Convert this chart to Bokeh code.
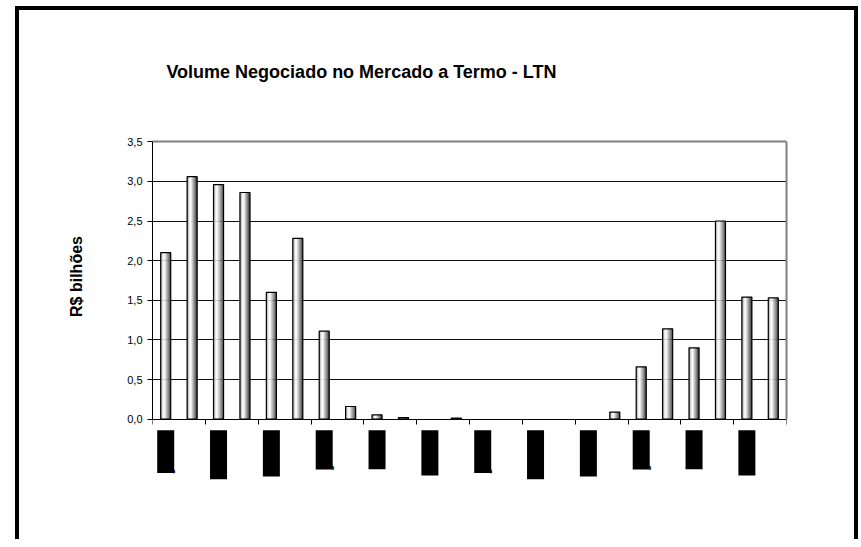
import numpy as np
from bokeh.plotting import figure
from bokeh.models import (Range1d, FixedTicker, CustomJSTickFormatter, LabelSet, Label,
                          ColumnDataSource, Grid, LinearAxis, CDSView, BooleanFilter)
from bokeh.embed import file_html
from bokeh.resources import INLINE

# ---- data ----
months = ["jan/02", "fev/02", "mar/02", "abr/02", "mai/02", "jun/02",
          "jul/02", "ago/02", "set/02", "out/02", "nov/02", "dez/02",
          "jan/03", "fev/03", "mar/03", "abr/03", "mai/03", "jun/03",
          "jul/03", "ago/03", "set/03", "out/03", "nov/03", "dez/03"]
volume = [2.10, 3.06, 2.96, 2.86, 1.60, 2.28, 1.11, 0.16, 0.055, 0.02, 0.0, 0.015,
          0.0, 0.0, 0.0, 0.0, 0.0, 0.09, 0.66, 1.14, 0.90, 2.50, 1.54, 1.53]
y_ticks = [0.0, 0.5, 1.0, 1.5, 2.0, 2.5, 3.0, 3.5]
title_text = "Volume Negociado no Mercado a Termo - LTN"
y_label = "R$ bilhões"

FONT = "Liberation Sans"
Y_MAX = 3.5

p = figure(width=835, height=529,
           x_range=Range1d(0, len(months)), y_range=Range1d(-0.9, 4.5),
           output_backend="svg", toolbar_location=None,
           min_border_left=133, min_border_right=68,
           min_border_top=52, min_border_bottom=49)
p.styles = {"margin-left": "12px", "margin-top": "2px",
            "transform": "translate(7px, 8px)",
            "outline": "4px solid black",
            "clip-path": "inset(-4px -4px 0px -4px)"}

p.background_fill_color = "white"
p.border_fill_color = "white"
p.outline_line_color = None

# bars drawn as vertical strips to imitate the cylinder shading
x = np.arange(len(months)) + 0.5
nonzero = BooleanFilter([v > 0 for v in volume])
src = ColumnDataSource(dict(x=x, top=volume))
bar_w = 0.38
shades = ['#9a9a9a', '#c8c8c8', '#eeeeee', '#ffffff', '#e4e4e4',
          '#c4c4c4', '#a4a4a4', '#848484', '#646464', '#404040']
n = len(shades)
sw = bar_w / n
for i, c in enumerate(shades):
    off = -bar_w / 2 + sw * (i + 0.5)
    s = ColumnDataSource(dict(x=x + off, top=volume))
    p.vbar(x="x", top="top", width=sw * 1.2, bottom=0, source=s,
           view=CDSView(filter=BooleanFilter([v > 0 for v in volume])),
           fill_color=c, line_color=None)
p.vbar(x="x", top="top", width=bar_w, bottom=0, source=src, view=CDSView(filter=nonzero),
       fill_color=None, line_color="black", line_width=1.2)

# grid
p.xgrid.visible = False
p.ygrid.ticker = FixedTicker(ticks=[t for t in y_ticks if 0 < t < Y_MAX])
p.ygrid.grid_line_color = "#111111"
p.ygrid.grid_line_width = 1
p.add_layout(Grid(dimension=1, ticker=FixedTicker(ticks=[Y_MAX]),
                  grid_line_color="#808080", grid_line_width=2))

# y axis
p.yaxis.bounds = (0, Y_MAX)
p.yaxis.ticker = FixedTicker(ticks=y_ticks)
p.yaxis.formatter = CustomJSTickFormatter(code="return tick.toFixed(1).replace('.', ',');")
p.yaxis.major_label_text_font = FONT
p.yaxis.major_label_text_font_size = "11px"
p.yaxis.major_label_text_color = "black"
p.yaxis.major_tick_in = 0
p.yaxis.major_tick_out = 5
p.yaxis.minor_tick_line_color = None
p.yaxis.axis_line_color = "black"
p.yaxis.major_tick_line_color = "black"
p.yaxis.axis_label = y_label
p.yaxis.axis_label_text_font = FONT
p.yaxis.axis_label_text_font_size = "16px"
p.yaxis.axis_label_text_font_style = "bold"
p.yaxis.axis_label_text_color = "black"
p.yaxis.axis_label_standoff = 39

# right border of plot area (gray)
right_axis = LinearAxis(bounds=(0, Y_MAX), ticker=FixedTicker(ticks=[]),
                        axis_line_color="#808080", axis_line_width=2,
                        major_tick_line_color=None, minor_tick_line_color=None,
                        major_label_text_font_size="0px")
p.add_layout(right_axis, "right")

# x axis at y=0
p.xaxis.fixed_location = 0
p.xaxis.bounds = (0, len(months))
p.xaxis.ticker = FixedTicker(ticks=list(range(0, len(months) + 1, 2)))
p.xaxis.formatter = CustomJSTickFormatter(code="return '';")
p.xaxis.major_tick_in = 0
p.xaxis.major_tick_out = 5
p.xaxis.minor_tick_line_color = None
p.xaxis.axis_line_color = "black"
p.xaxis.major_tick_line_color = "black"

# title
p.add_layout(Label(x=7.91, y=4.376, text=title_text, text_align="center",
                   text_baseline="middle", text_font=FONT, text_font_size="18px",
                   text_font_style="bold", text_color="black"))

# category labels (shown as solid black blocks like the reference)
lab_idx = list(range(0, len(months), 2))
lab_src = ColumnDataSource(dict(x=[x[i] for i in lab_idx],
                                y=[-0.14] * len(lab_idx),
                                t=[months[i] for i in lab_idx]))
labels = LabelSet(x="x", y="y", text="t", source=lab_src, angle=np.pi / 2,
                  text_align="right", text_baseline="middle",
                  text_font=FONT, text_font_size="16px", text_font_style="bold",
                  text_color="black", background_fill_color="black")
p.add_layout(labels)

open("out.html", "w").write(file_html(p, INLINE))
